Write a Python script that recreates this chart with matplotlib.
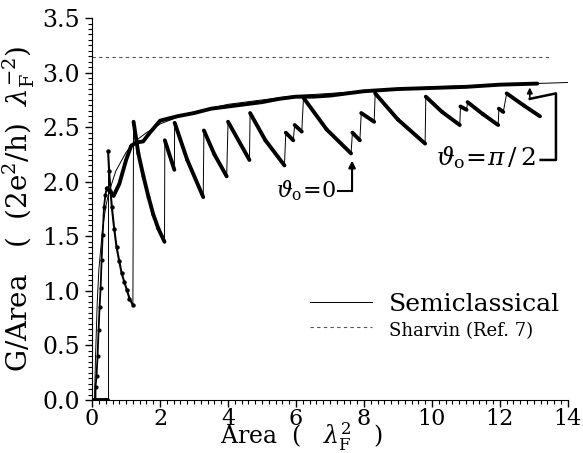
#!/usr/bin/env python3

import numpy as np
import matplotlib
matplotlib.use("Agg")
from matplotlib import pyplot as plt
from matplotlib.collections import LineCollection
from matplotlib.ticker import MultipleLocator, FormatStrFormatter

OUT_FILE = "out.png"

# semiclassical conductance per area
semi_x = [0.07, 0.10, 0.15, 0.20, 0.30, 0.40, 0.50, 0.70, 1.0, 1.3, 1.6, 2.0, 2.5,
          3.0, 4.0, 5.0, 6.0, 7.0, 8.0, 9.0, 10.0, 11.0, 12.0, 13.0, 14.0]
semi_y = [0.00, 0.39, 0.89, 1.20, 1.55, 1.77, 1.91, 2.10, 2.27, 2.38, 2.45, 2.53, 2.59,
          2.64, 2.71, 2.75, 2.79, 2.81, 2.83, 2.85, 2.87, 2.88, 2.89, 2.90, 2.91]

# Sharvin limit
sharvin_x = [0.0, 13.5]
sharvin_y = [3.14, 3.14]

# theta_0 = pi/2 (dotted start, then thick)
half_dot_x = [0.10, 0.10, 0.13, 0.16, 0.19, 0.22, 0.25, 0.28, 0.31, 0.35, 0.39, 0.43]
half_dot_y = [0.00, 0.12, 0.22, 0.40, 0.64, 0.85, 1.03, 1.28, 1.51, 1.77, 1.88, 1.94]
half_x = [0.43, 0.50, 0.63, 0.80, 1.0, 1.15, 1.3, 1.5, 1.7, 2.0, 2.5, 3.0, 3.5, 4.0,
          4.5, 5.0, 5.5, 6.0, 6.5, 7.0, 7.5, 8.0, 9.0, 10.0, 11.0, 12.0, 13.1]
half_y = [1.94, 1.92, 1.87, 1.98, 2.20, 2.33, 2.36, 2.37, 2.45, 2.56, 2.60, 2.63, 2.67, 2.69,
          2.71, 2.73, 2.76, 2.78, 2.78, 2.79, 2.81, 2.83, 2.85, 2.86, 2.87, 2.89, 2.90]

# theta_0 = 0 (sawtooth)
zero_start_x = [0.0, 0.47, 0.47]
zero_start_y = [0.0, 0.0, 2.28]
zero_dot_x = [0.47, 0.50, 0.54, 0.58, 0.65, 0.72, 0.80, 0.87, 0.95, 1.02, 1.10, 1.20]
zero_dot_y = [2.28, 2.10, 1.92, 1.77, 1.57, 1.40, 1.27, 1.16, 1.08, 1.01, 0.93, 0.87]
zero_x = [1.2, 1.22, 1.36, 1.51, 1.66, 1.80, 1.95, 2.13, 2.14, 2.42, 2.43, 2.8, 3.27, 3.29,
          3.6, 3.96, 4.0, 4.63, 4.65, 5.1, 5.66, 5.7, 5.92, 5.96, 6.17, 6.22, 6.9, 7.62,
          7.66, 7.88, 7.92, 8.3, 8.33, 9.0, 9.8, 9.82, 10.3, 10.82, 10.84, 11.02, 11.05,
          11.5, 11.95, 11.97, 12.1, 12.2, 12.7, 13.18]
zero_y = [0.87, 2.55, 2.26, 2.05, 1.86, 1.70, 1.57, 1.45, 2.38, 2.11, 2.54, 2.2, 1.86, 2.47,
          2.25, 2.05, 2.55, 2.20, 2.63, 2.38, 2.15, 2.45, 2.38, 2.52, 2.46, 2.77, 2.48, 2.26,
          2.45, 2.38, 2.63, 2.55, 2.81, 2.57, 2.35, 2.78, 2.64, 2.52, 2.69, 2.66, 2.73,
          2.62, 2.52, 2.67, 2.64, 2.81, 2.70, 2.60]


def sawtooth(ax, xs, ys):
	# thick for the decaying parts, thin for the jumps
	pts = np.column_stack([xs, ys])
	segs = np.stack([pts[:-1], pts[1:]], axis=1)
	widths = np.where(np.diff(ys) > 0, 0.7, 2.8)
	ax.add_collection(LineCollection(segs, linewidths=widths, colors="k",
			capstyle="round", joinstyle="round"))


def plot_conductance():
	plt.rcParams["font.family"] = "DejaVu Serif"
	plt.rcParams["mathtext.fontset"] = "dejavuserif"

	fig = plt.figure(figsize=(5.83, 4.53), dpi=100)
	ax = fig.add_axes([0.158, 0.117, 0.816, 0.843])

	semi, = ax.plot(semi_x, semi_y, color="k", lw=0.7)
	sharv, = ax.plot(sharvin_x, sharvin_y, color="#555555", lw=0.8, dashes=(3, 3))

	ax.plot(half_dot_x, half_dot_y, color="k", lw=1.3, marker="o", ms=2.0)
	ax.plot(half_x, half_y, color="k", lw=2.8, solid_capstyle="round")

	sawtooth(ax, zero_start_x, zero_start_y)
	ax.plot(zero_dot_x, zero_dot_y, color="k", lw=1.5, marker="o", ms=2.2)
	sawtooth(ax, zero_x, zero_y)

	# annotations
	ax.text(7.2, 1.915, r"$\vartheta_{\rm o}\!=\!0$", ha="right", va="center", fontsize=16)
	ax.plot([7.25, 7.65], [1.915, 1.915], color="k", lw=1.5)
	ax.annotate("", xy=(7.65, 2.22), xytext=(7.65, 1.9),
			arrowprops=dict(arrowstyle="-|>", color="k", lw=1.5, mutation_scale=10))

	ax.text(13.05, 2.22, r"$\vartheta_{\rm o}\!=\!\pi\,/\,2$", ha="right", va="center", fontsize=18)
	ax.plot([13.2, 13.65, 13.65, 12.88], [2.2, 2.2, 2.81, 2.76], color="k", lw=1.8)
	ax.annotate("", xy=(12.88, 2.89), xytext=(12.88, 2.75),
			arrowprops=dict(arrowstyle="-|>", color="k", lw=1.2, mutation_scale=8))

	leg = ax.legend([semi, sharv], ["Semiclassical", "Sharvin (Ref. 7)"],
			loc="upper left", bbox_to_anchor=(0.458, 0.28), frameon=False,
			borderaxespad=0, borderpad=0,
			handlelength=2.5, handletextpad=0.65, labelspacing=0.1, fontsize=18)
	leg.get_texts()[1].set_fontsize(13)

	ax.set_xlim(0, 14)
	ax.set_ylim(0, 3.5)
	ax.xaxis.set_major_locator(MultipleLocator(2))
	ax.xaxis.set_minor_locator(MultipleLocator(0.2))
	ax.yaxis.set_major_locator(MultipleLocator(0.5))
	ax.yaxis.set_minor_locator(MultipleLocator(0.05))
	ax.yaxis.set_major_formatter(FormatStrFormatter("%.1f"))
	ax.tick_params(which="major", direction="out", length=5, width=1, labelsize=17)
	ax.tick_params(which="minor", direction="out", length=3, width=0.8)
	ax.tick_params(axis="x", which="major", pad=1, labelsize=16)
	ax.spines["top"].set_visible(False)
	ax.spines["right"].set_visible(False)

	ax.set_xlabel(r"Area  (   $\lambda_{\rm F}^{2}$   )", fontsize=17)
	ax.xaxis.set_label_coords(0.44, -0.055)
	ax.set_ylabel(r"G/Area   (  (2e$^2$/h)  $\lambda_{\rm F}^{-2}$)", fontsize=20)
	ax.yaxis.set_label_coords(-0.115, 0.5)

	plt.savefig(OUT_FILE, dpi=100)
	plt.close()


if __name__ == "__main__":
	plot_conductance()
